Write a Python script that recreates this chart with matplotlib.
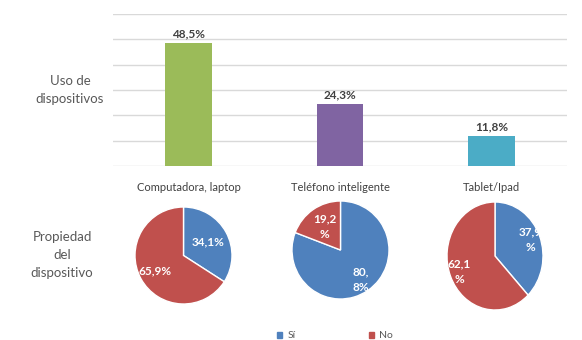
import numpy as np
import matplotlib
matplotlib.use("Agg")
import matplotlib.pyplot as plt
from matplotlib.patches import Patch

plt.rcParams['font.family'] = ['Lato', 'DejaVu Sans']

# uso de dispositivos (%)
categorias = ["Computadora, laptop", "Teléfono inteligente", "Tablet/Ipad"]
uso = [48.5, 24.3, 11.8]
uso_labels = ["48,5%", "24,3%", "11,8%"]
bar_colors = ["#9BBB59", "#8064A2", "#4BACC6"]

# propiedad del dispositivo: [Sí, No] (%)
prop_si = [34.1, 80.8, 37.9]
prop_no = [65.9, 19.2, 62.1]
prop_labels = [["34,1%", "65,9%"], ["80,\n8%", "19,2\n%"], ["37,9\n%", "62,1\n%"]]
label_radius = [[0.58, 0.67], [0.73, 0.58], [0.8, 0.8]]
pie_colors = ["#4F81BD", "#C0504D"]
legend_names = ["Sí", "No"]

W, H = 582, 340
fig = plt.figure(figsize=(W / 100, H / 100), dpi=100)


def px_axes(x0, y0, x1, y1):
    """axes from pixel box (top-left origin)"""
    return fig.add_axes([x0 / W, 1 - y1 / H, (x1 - x0) / W, (y1 - y0) / H])


# bar chart
ax = px_axes(113, 14, 567, 166)
x = np.arange(len(uso))
ax.bar(x, uso, width=0.31, color=bar_colors, zorder=3)
ax.set_xlim(-0.5, 2.5)
ax.set_ylim(0, 60)
ax.set_yticks(np.arange(0, 61, 10))
ax.grid(axis="y", color="#d9d9d9", lw=1, zorder=0)
ax.tick_params(left=False, bottom=False, labelleft=False)
ax.set_xticks(x)
ax.set_xticklabels(categorias, fontsize=8, color="#404040")
ax.tick_params(axis="x", pad=8)
for s in ax.spines.values():
    s.set_visible(False)
for xi, v, lab in zip(x, uso, uso_labels):
    ax.text(xi, v + 1.6, lab, ha="center", va="bottom", fontsize=8.5,
            fontweight="bold", color="#404040")

# pie charts
pie_boxes = [(135, 207, 232, 304), (292, 201, 389, 299), (447, 202, 543, 310)]
for i, (x0, y0, x1, y1) in enumerate(pie_boxes):
    pax = px_axes(x0, y0, x1, y1)
    vals = [prop_si[i], prop_no[i]]
    wedges, _ = pax.pie(vals, colors=pie_colors, startangle=90, counterclock=False,
                        wedgeprops=dict(edgecolor="white", linewidth=1))
    pax.set_aspect("auto")
    pax.set_xlim(-1, 1)
    pax.set_ylim(-1, 1)
    for w, lab, r in zip(wedges, prop_labels[i], label_radius[i]):
        ang = np.deg2rad((w.theta1 + w.theta2) / 2)
        pax.text(r * np.cos(ang), r * np.sin(ang), lab, ha="center", va="center",
                 fontsize=8.5, fontweight="bold", color="white",
                 linespacing=1.5, clip_on=False)

# row titles
fig.text(70 / W, 1 - 90 / H, "Uso de\ndispositivos", ha="center", va="center",
         fontsize=9.5, color="#595959", linespacing=1.6)
fig.text(62 / W, 1 - 255 / H, "Propiedad\ndel\ndispositivo", ha="center",
         va="center", fontsize=9.5, color="#595959", linespacing=1.6)

# legend
handles = [Patch(color=c) for c in pie_colors]
fig.legend(handles, legend_names, loc="center", bbox_to_anchor=(335 / W, 1 - 336 / H),
           ncol=2, frameon=False, fontsize=7.5, handlelength=0.5, handleheight=0.5,
           columnspacing=7.0, handletextpad=0.5, labelcolor="#595959")

fig.savefig("out.png", dpi=100)
